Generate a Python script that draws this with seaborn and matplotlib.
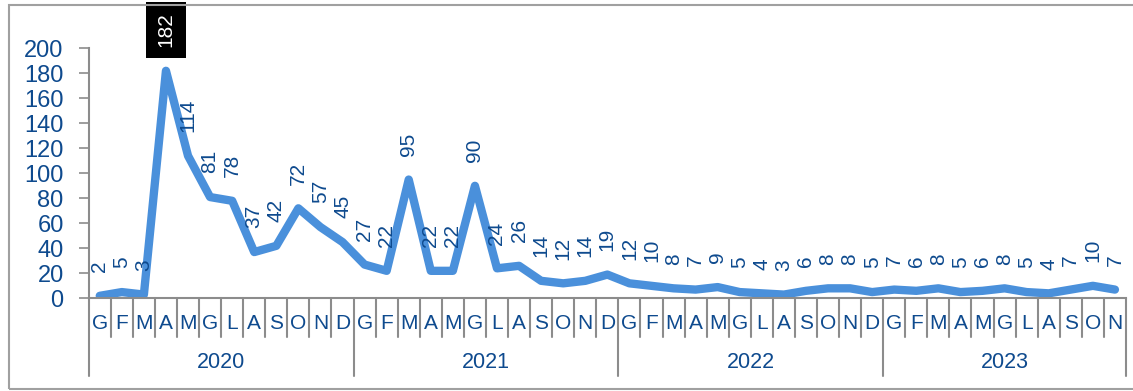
import seaborn as sns
import matplotlib.pyplot as plt
import matplotlib.transforms as mtransforms
from matplotlib.patches import Rectangle
import pandas as pd

# Monthly values, Jan 2020 - Nov 2023
years = ["2020", "2021", "2022", "2023"]
months = ["G", "F", "M", "A", "M", "G", "L", "A", "S", "O", "N", "D"]
values_2020 = [2, 5, 3, 182, 114, 81, 78, 37, 42, 72, 57, 45]
values_2021 = [27, 22, 95, 22, 22, 90, 24, 26, 14, 12, 14, 19]
values_2022 = [12, 10, 8, 7, 9, 5, 4, 3, 6, 8, 8, 5]
values_2023 = [7, 6, 8, 5, 6, 8, 5, 4, 7, 10, 7]

series = [values_2020, values_2021, values_2022, values_2023]
rows = []
for yr, vals in zip(years, series):
    for m, v in zip(months, vals):
        rows.append({"year": yr, "month": m, "value": v})
df = pd.DataFrame(rows)
df["idx"] = range(len(df))

line_color = "#4a90db"
text_color = "#0e4a8e"
grey = "#8c8c8c"

sns.set_theme(style="white")
plt.rcParams["font.family"] = ["Liberation Sans", "DejaVu Sans"]

fig = plt.figure(figsize=(11.33, 3.91), dpi=100)
ax = fig.add_axes([0.0783, 0.237, 0.9155, 0.6395])

sns.lineplot(data=df, x="idx", y="value", color=line_color, linewidth=6,
             ax=ax, solid_capstyle="round", solid_joinstyle="round")

ax.set_xlim(-0.5, len(df) - 0.5)
ax.set_ylim(0, 200)
ax.set_yticks(range(0, 201, 20))
ax.set_xticks([])
ax.set_xlabel("")
ax.set_ylabel("")
ax.tick_params(axis="y", labelsize=17, labelcolor=text_color, color=grey,
               length=7, width=1.2, left=True, pad=11)
for s in ["top", "right"]:
    ax.spines[s].set_visible(False)
for s in ["left", "bottom"]:
    ax.spines[s].set_color(grey)
    ax.spines[s].set_linewidth(1.5)

# data labels, rotated
for _, r in df.iterrows():
    kw = dict(rotation=90, ha="center", va="bottom", fontsize=15,
              color=text_color, annotation_clip=False)
    if r["value"] == df["value"].max():
        kw.update(color="white",
                  bbox=dict(boxstyle="square,pad=0.5", fc="black", ec="none"))
    ax.annotate(str(r["value"]), (r["idx"], r["value"]),
                xytext=(0, 17), textcoords="offset points", **kw)

# multi-level category axis
trans = mtransforms.blended_transform_factory(ax.transData, ax.transAxes)
for i, m in enumerate(df["month"]):
    ax.text(i, -0.1, m, transform=trans, ha="center", va="center",
            fontsize=15, color=text_color)
for i in range(len(df) + 1):
    year_edge = i % 12 == 0 or i == len(df)
    ax.plot([i - 0.5, i - 0.5], [0, -0.312 if year_edge else -0.156],
            transform=trans, color=grey, lw=1.5, clip_on=False)
start = 0
for yr, vals in zip(years, series):
    end = start + len(vals)
    ax.text((start + end - 1) / 2, -0.258, yr, transform=trans, ha="center",
            va="center", fontsize=15.5, color=text_color)
    start = end

# outer frame
fig.patches.append(Rectangle((0.0079, 0.0051), 1.05, 0.982, transform=fig.transFigure,
                             fill=False, ec="#a0a0a0", lw=1.5, zorder=0))

fig.savefig("out.png", dpi=100)
